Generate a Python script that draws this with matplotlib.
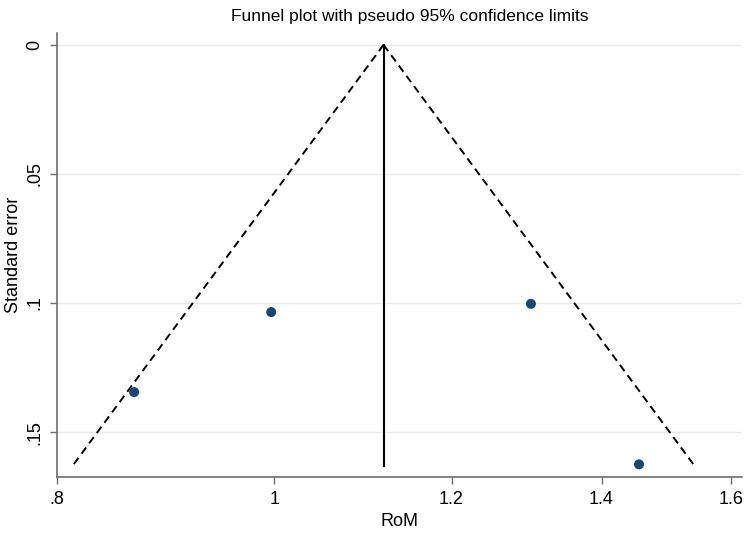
import matplotlib
matplotlib.use("Agg")
import matplotlib.pyplot as plt
import numpy as np

plt.rcParams['font.family'] = ['Liberation Sans', 'DejaVu Sans']

# donnees
rom = [0.866, 0.997, 1.302, 1.455]
se = [0.1345, 0.1035, 0.1003, 0.1625]
pooled_rom = 1.119
se_max = 0.163

xticks = [0.8, 1.0, 1.2, 1.4, 1.6]
xtick_labels = [".8", "1", "1.2", "1.4", "1.6"]
yticks = [0, 0.05, 0.1, 0.15]
ytick_labels = ["0", ".05", ".1", ".15"]

fig = plt.figure(figsize=(7.5, 5.34), dpi=100)
ax = fig.add_axes([0.076, 0.1067, 0.913, 0.832])

# limites pseudo 95% (echelle log)
lo = [pooled_rom, np.exp(np.log(pooled_rom) - 1.96 * se_max)]
hi = [pooled_rom, np.exp(np.log(pooled_rom) + 1.96 * se_max)]
ax.plot(lo, [0, se_max], color='black', lw=1.4, ls=(0, (4, 2.6)))
ax.plot(hi, [0, se_max], color='black', lw=1.4, ls=(0, (4, 2.6)))
ax.plot([pooled_rom, pooled_rom], [0, se_max], color='black', lw=1.5)

ax.scatter(rom, se, s=52, color='#1a476f', zorder=3, edgecolors='none')

ax.set_xscale('log')
ax.set_xlim(0.8036, 1.617)
ax.set_ylim(0.1674, -0.0047)
ax.set_xticks(xticks)
ax.set_xticklabels(xtick_labels)
ax.minorticks_off()
ax.set_yticks(yticks)
ax.set_yticklabels(ytick_labels, rotation=90, va='center')

ax.grid(axis='y', color='#eaeaea', lw=1)
ax.set_axisbelow(True)
for s in ['top', 'right']:
    ax.spines[s].set_visible(False)
for s in ['left', 'bottom']:
    ax.spines[s].set_color('#6e6e6e')
    ax.spines[s].set_linewidth(1.2)
ax.tick_params(axis='both', colors='#6e6e6e', labelcolor='black',
               labelsize=13, length=5, width=1, pad=5)

ax.set_xlabel("RoM", fontsize=13, labelpad=4)
ax.set_ylabel("Standard error", fontsize=13, labelpad=3)
fig.text(410 / 750, 1 - 17 / 534, "Funnel plot with pseudo 95% confidence limits",
         ha='center', va='center', fontsize=12.5)

fig.savefig("out.png", dpi=100, facecolor='white')
